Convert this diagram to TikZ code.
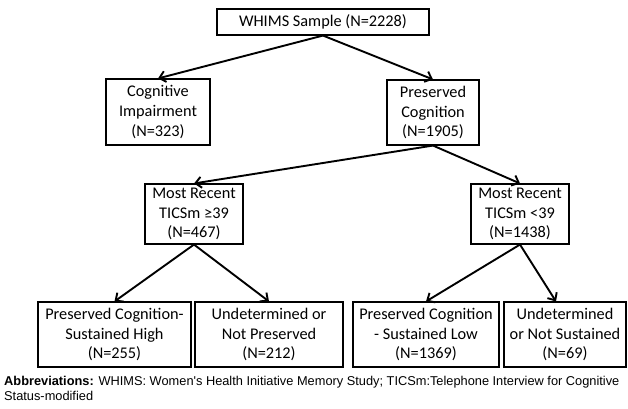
\documentclass[tikz,border=0pt]{standalone}
\usepackage{fontspec}
\setmainfont{Carlito}
\newfontfamily\capfont{Liberation Sans}
\usetikzlibrary{arrows.meta}

\tikzset{
  box/.style={draw, line width=1.1bp, align=center, inner sep=2bp,
    font=\fontsize{16.3bp}{19.8bp}\selectfont},
  arr/.style={line width=1.9bp, -{Straight Barb[length=6bp,width=11bp,line width=1.9bp]}}
}

\begin{document}
\begin{tikzpicture}[x=1bp,y=-1bp]
				\useasboundingbox (0,0) rectangle (628,408);
				\node[box, minimum width=212bp, minimum height=26bp] (S) at (323,22) {WHIMS Sample (N=2228)};
				\node[box, minimum width=104bp, minimum height=66bp] (CI) at (158,112) {Cognitive\\Impairment\\(N=323)};
				\node[box, minimum width=92bp, minimum height=65bp] (PC) at (433,112.5) {Preserved\\Cognition\\(N=1905)};
				\node[box, minimum width=98bp, minimum height=60bp] (H) at (194,214) {Most Recent\\TICSm ≥39\\(N=467)};
				\node[box, minimum width=98bp, minimum height=60bp] (L) at (520,214) {Most Recent\\TICSm <39\\(N=1438)};
				\node[box, minimum width=153bp, minimum height=65bp] (SH) at (114.5,334.5) {Preserved Cognition-\\Sustained High\\(N=255)};
				\node[box, minimum width=148bp, minimum height=65bp] (NP) at (269,334.5) {Undetermined or\\Not Preserved\\(N=212)};
				\node[box, minimum width=146bp, minimum height=65bp] (SL) at (426,334.5) {Preserved Cognition\\- Sustained Low\\(N=1369)};
				\node[box, minimum width=122bp, minimum height=65bp] (NS) at (565,334.5) {Undetermined\\or Not Sustained\\(N=69)};
				\node[anchor=north west, align=left, inner sep=0pt,
				  font=\capfont\fontsize{12.8bp}{15.5bp}\selectfont] (A) at (4,376)
				  {\textbf{Abbreviations:} WHIMS: Women's Health Initiative Memory Study; TICSm:Telephone Interview for Cognitive\\Status-modified};
				
				\draw[arr] (S.south) -- (CI.north);
				\draw[arr] (S.south) -- (PC.north);
				\draw[arr] (PC.south) -- (H.north);
				\draw[arr] (PC.south) -- (L.north);
				\draw[arr] (H.south) -- (SH.north);
				\draw[arr] (H.south) -- (NP.north);
				\draw[arr] (L.south) -- (SL.north);
				\draw[arr] (L.south) -- ([xshift=-9bp]NS.north);
			\end{tikzpicture}
\end{document}
